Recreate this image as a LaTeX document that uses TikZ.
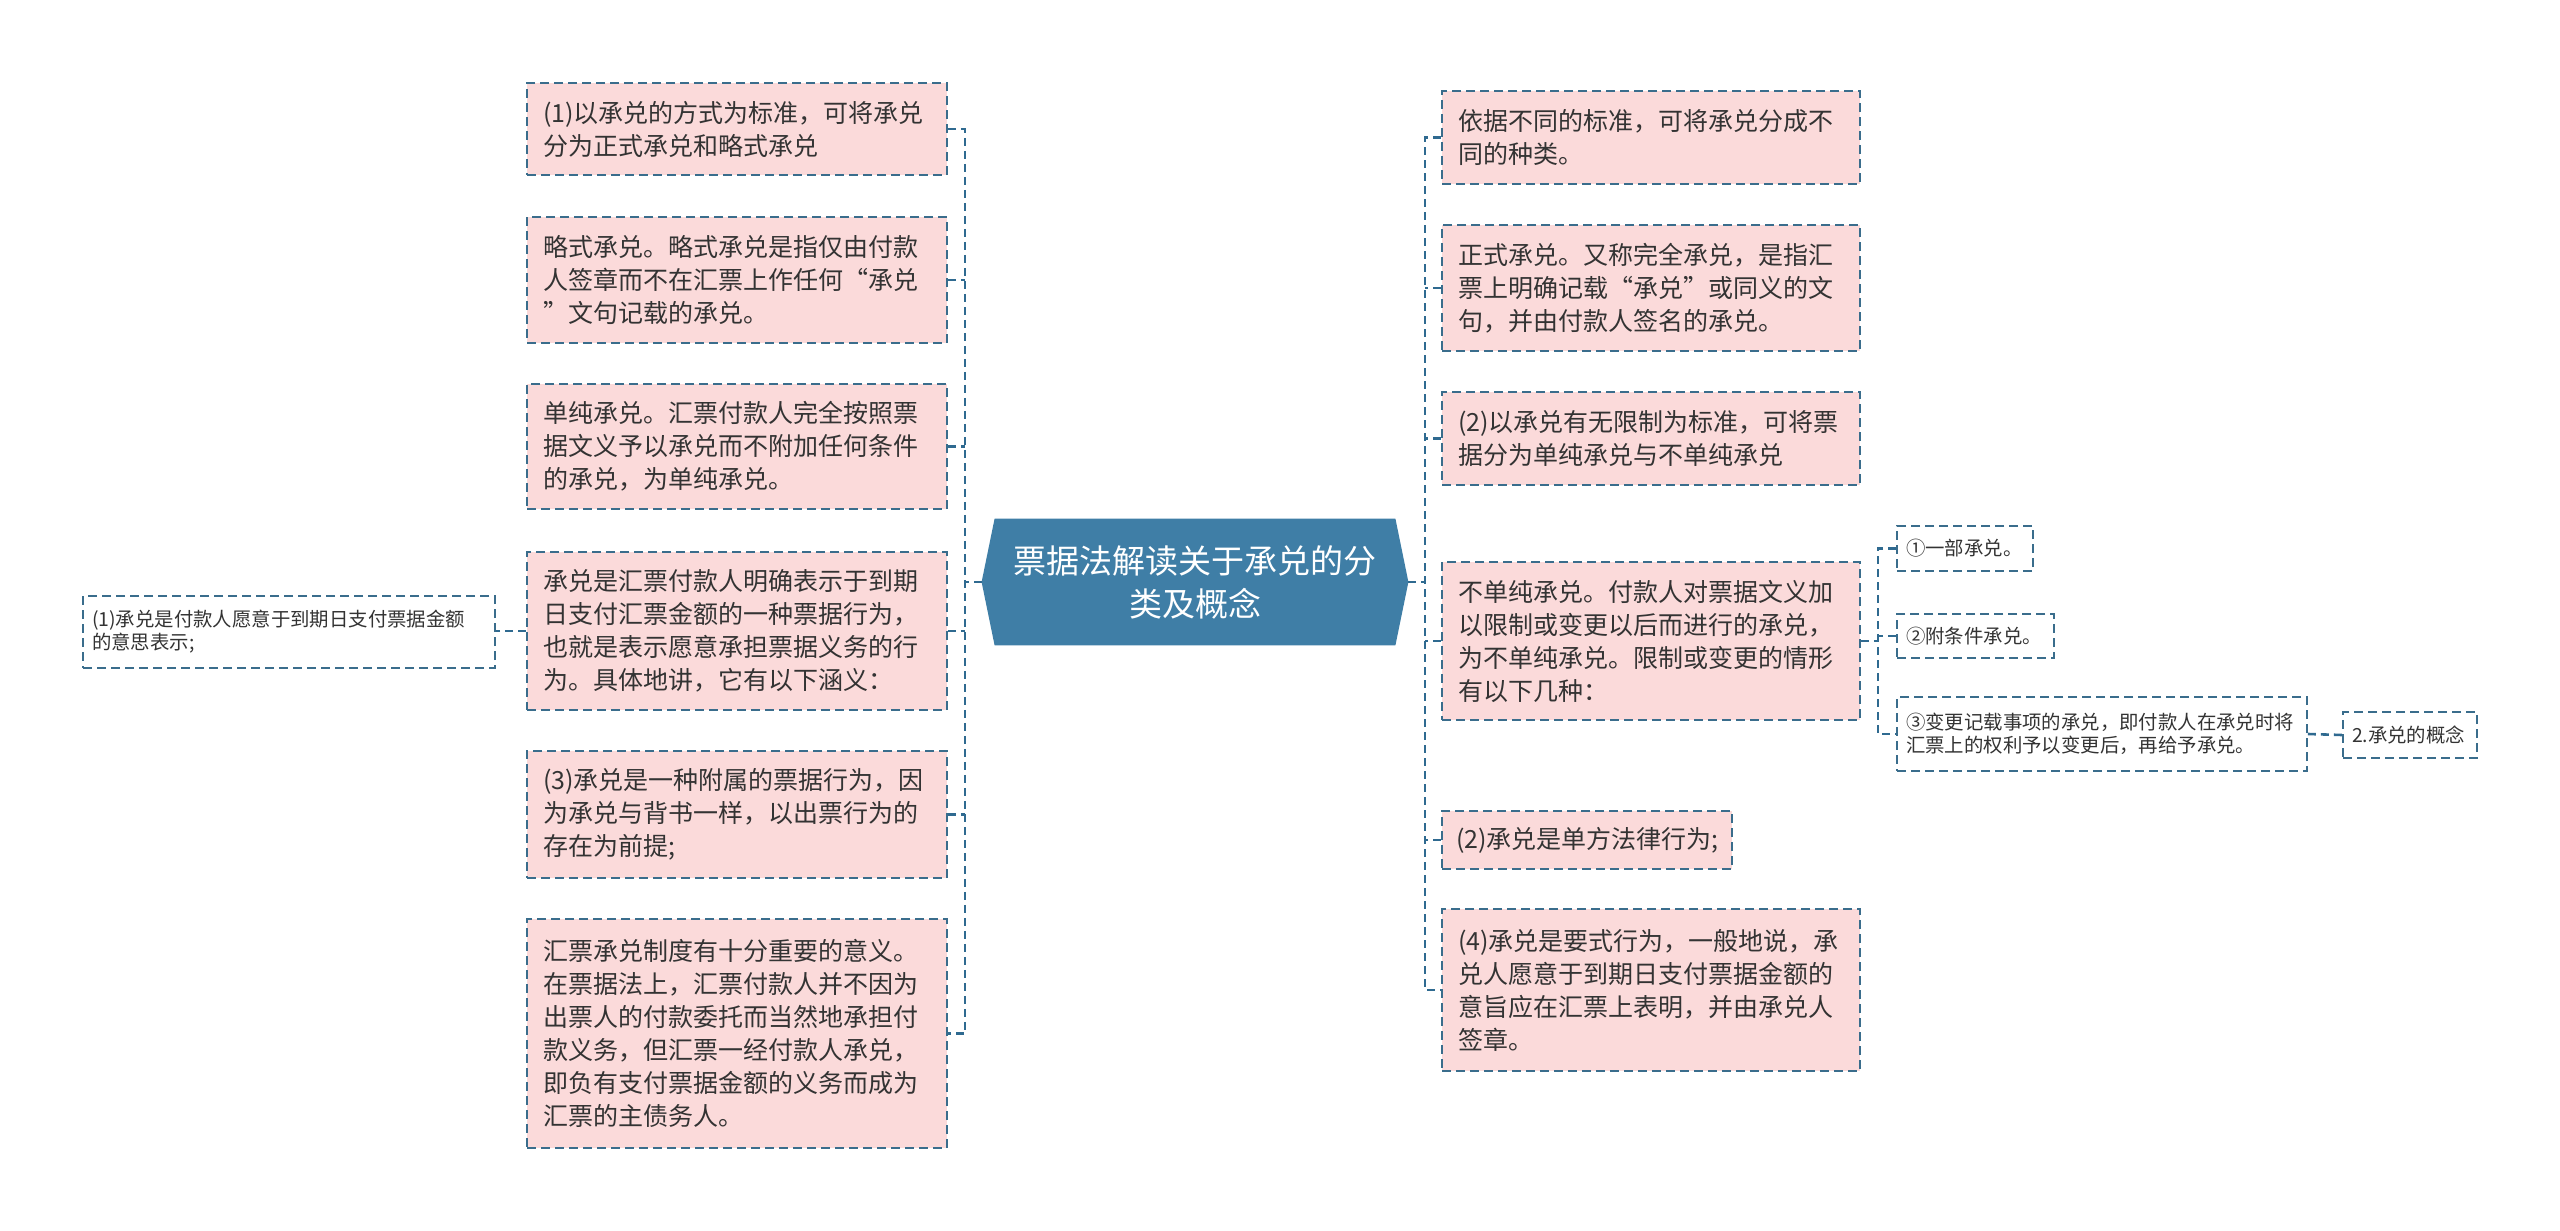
\documentclass[tikz,border=0pt]{standalone}
\usepackage{fontspec}
\newfontfamily\cjk{Noto Sans CJK SC}
\usetikzlibrary{backgrounds}
\definecolor{pinkc}{HTML}{FBDADA}
\definecolor{bordc}{HTML}{3A6D8C}
\definecolor{connc}{HTML}{2F6A90}
\definecolor{rootc}{HTML}{3F7EA6}
\definecolor{textc}{HTML}{333333}
\newcommand{\bigf}{\cjk\fontsize{12.5pt}{16.5pt}\selectfont}
\newcommand{\smallf}{\cjk\fontsize{9.7pt}{11.5pt}\selectfont}
\newcommand{\rootf}{\cjk\fontsize{16.5pt}{21.5pt}\selectfont}
\begin{document}
\begin{tikzpicture}[x=0.5pt,y=-0.5pt,
  bigbox/.style={draw=bordc, line width=0.8pt, dash pattern=on 4.5pt off 2.5pt, fill=pinkc, text=textc, font=\bigf, align=left, inner xsep=8pt, inner ysep=0pt},
  smallbox/.style={draw=bordc, line width=0.8pt, dash pattern=on 4.5pt off 2.5pt, fill=white, text=textc, font=\smallf, align=left, inner xsep=4.5pt, inner ysep=0pt},
  conn/.style={draw=connc, line width=1.3pt, dash pattern=on 4pt off 2.5pt},
  rootnode/.style={text=white, font=\rootf, align=center, inner sep=0pt, minimum width=213pt, minimum height=63pt}
]
\useasboundingbox (0,0) rectangle (2560,1231);

% left column
\node[bigbox, text width=194pt, minimum height=46pt] (L1) at (737,129) {(1)以承兑的方式为标准，可将承兑\\分为正式承兑和略式承兑};
\node[bigbox, text width=194pt, minimum height=63pt] (L2) at (737,280) {略式承兑。略式承兑是指仅由付款\\人签章而不在汇票上作任何“承兑\\”文句记载的承兑。};
\node[bigbox, text width=194pt, minimum height=62.5pt] (L3) at (737,446.5) {单纯承兑。汇票付款人完全按照票\\据文义予以承兑而不附加任何条件\\的承兑，为单纯承兑。};
\node[bigbox, text width=194pt, minimum height=79pt] (L4) at (737,631) {承兑是汇票付款人明确表示于到期\\日支付汇票金额的一种票据行为，\\也就是表示愿意承担票据义务的行\\为。具体地讲，它有以下涵义：};
\node[bigbox, text width=194pt, minimum height=63.5pt] (L5) at (737,814.5) {(3)承兑是一种附属的票据行为，因\\为承兑与背书一样，以出票行为的\\存在为前提;};
\node[bigbox, text width=194pt, minimum height=114.5pt] (L6) at (737,1033.5) {汇票承兑制度有十分重要的意义。\\在票据法上，汇票付款人并不因为\\出票人的付款委托而当然地承担付\\款义务，但汇票一经付款人承兑，\\即负有支付票据金额的义务而成为\\汇票的主债务人。};
\node[smallbox, text width=197pt, minimum height=36pt] (L7) at (289,632) {(1)承兑是付款人愿意于到期日支付票据金额\\的意思表示;};

% root
\node[rootnode] (root) at (1195,582) {票据法解读关于承兑的分\\类及概念};
\begin{pgfonlayer}{background}
\fill[rootc] ([xshift=6.5pt]root.north west) -- ([xshift=-6.5pt]root.north east) -- (root.east) -- ([xshift=-6.5pt]root.south east) -- ([xshift=6.5pt]root.south west) -- (root.west) -- cycle;
\end{pgfonlayer}

% right column
\node[bigbox, text width=193pt, minimum height=46.5pt] (R1) at (1651,137.5) {依据不同的标准，可将承兑分成不\\同的种类。};
\node[bigbox, text width=193pt, minimum height=63pt] (R2) at (1651,288) {正式承兑。又称完全承兑，是指汇\\票上明确记载“承兑”或同义的文\\句，并由付款人签名的承兑。};
\node[bigbox, text width=193pt, minimum height=46.5pt] (R3) at (1651,438.5) {(2)以承兑有无限制为标准，可将票\\据分为单纯承兑与不单纯承兑};
\node[bigbox, text width=193pt, minimum height=79pt] (R4) at (1651,641) {不单纯承兑。付款人对票据文义加\\以限制或变更以后而进行的承兑，\\为不单纯承兑。限制或变更的情形\\有以下几种：};
\node[bigbox, inner xsep=7pt, text width=131pt, minimum height=29pt] (R5) at (1587,840) {(2)承兑是单方法律行为;};
\node[bigbox, text width=193pt, minimum height=81pt] (R6) at (1651,990) {(4)承兑是要式行为，一般地说，承\\兑人愿意于到期日支付票据金额的\\意旨应在汇票上表明，并由承兑人\\签章。};

% children of R4
\node[smallbox, text width=59pt, minimum height=22.5pt] (C1) at (1965,548.5) {①一部承兑。};
\node[smallbox, text width=69.5pt, minimum height=22pt] (C2) at (1975.5,636) {②附条件承兑。};
\node[smallbox, text width=196pt, minimum height=37pt] (C3) at (2102,734) {③变更记载事项的承兑，即付款人在承兑时将\\汇票上的权利予以变更后，再给予承兑。};
\node[smallbox, text width=58pt, minimum height=23pt] (C4) at (2410,735) {2.承兑的概念};

% connectors
\coordinate (lbus) at (965,582);
\coordinate (rbus) at (1425,582);
\coordinate (cbus) at (1878,641);

\draw[conn] (root.west) -- (lbus);
\draw[conn] (L1.east) -- (L1.east -| lbus) -- (L6.east -| lbus) -- (L6.east);
\foreach \n in {L2,L3,L4,L5} \draw[conn] (\n.east) -- (\n.east -| lbus);
\draw[conn] (L4.west) -- (L4.west -| L7.east);

\draw[conn] (root.east) -- (rbus);
\draw[conn] (R1.west) -- (R1.west -| rbus) -- (R6.west -| rbus) -- (R6.west);
\foreach \n in {R2,R3,R4,R5} \draw[conn] (\n.west) -- (\n.west -| rbus);

\draw[conn] (R4.east) -- (R4.east -| cbus);
\draw[conn] (C1.west) -- (C1.west -| cbus) -- (C3.west -| cbus) -- (C3.west);
\draw[conn] (C2.west) -- (C2.west -| cbus);
\draw[conn] (C3.east) -- (C4.west);
\end{tikzpicture}
\end{document}
